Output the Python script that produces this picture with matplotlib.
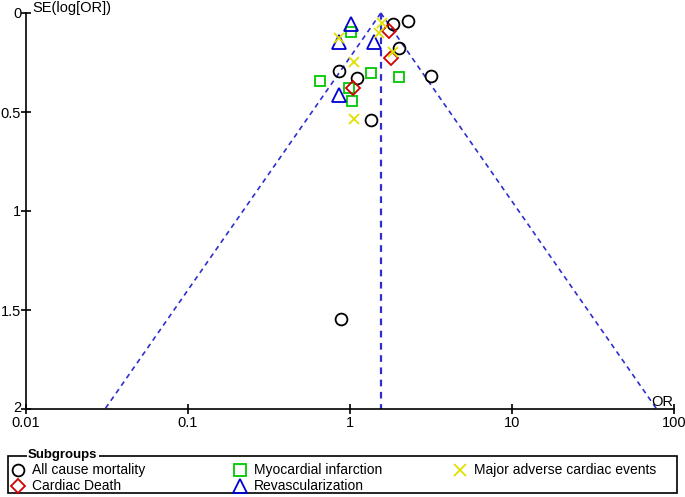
import numpy as np
import matplotlib
matplotlib.use("Agg")
import matplotlib.pyplot as plt
from matplotlib.patches import Rectangle
from matplotlib.lines import Line2D
import matplotlib.transforms as mtransforms

plt.rcParams['font.family'] = ['Liberation Sans', 'DejaVu Sans']

# Data: (odds ratio, SE of log OR)
acm_or = [1.85, 2.29, 2.00, 0.85, 1.10, 3.15, 1.34, 0.88]
acm_se = [0.057, 0.039, 0.175, 0.291, 0.328, 0.318, 0.540, 1.545]
mi_or = [1.01, 1.35, 2.01, 0.65, 0.98, 1.03]
mi_se = [0.098, 0.303, 0.323, 0.343, 0.380, 0.444]
mace_or = [1.57, 1.50, 0.855, 1.85, 1.06, 1.06]
mace_se = [0.049, 0.099, 0.125, 0.198, 0.249, 0.535]
cd_or = [1.75, 1.79, 1.05]
cd_se = [0.089, 0.229, 0.380]
rev_or = [1.01, 0.86, 1.41, 0.86]
rev_se = [0.055, 0.148, 0.148, 0.414]

pooled_or = 1.55
se_max = 2.0

x_ticks = [0.01, 0.1, 1, 10, 100]
x_ticklabels = ["0.01", "0.1", "1", "10", "100"]
y_ticks = [0, 0.5, 1, 1.5, 2]
y_ticklabels = ["0", "0.5", "1", "1.5", "2"]

labels = ["All cause mortality", "Myocardial infarction", "Major adverse cardiac events",
          "Cardiac Death", "Revascularization"]

W, H = 685, 497
fig = plt.figure(figsize=(6.85, 4.97), dpi=100)
ax = fig.add_axes([26/W, 1-409/H, (674-26)/W, (409-13)/H])

fcol = '#2E2ED0'
se_line = np.array([0.0, se_max])
lo = pooled_or * np.exp(-1.96 * se_line)
hi = pooled_or * np.exp(1.96 * se_line)
ax.plot(lo, se_line, color=fcol, ls=(0, (3, 2.5)), lw=1.2, clip_on=False)
ax.plot(hi, se_line, color=fcol, ls=(0, (3, 2.5)), lw=1.2, clip_on=False)
ax.plot([pooled_or, pooled_or], se_line, color=fcol, ls=(0, (3, 2.5)), lw=1.6, clip_on=False)

green = '#00C800'
yellow = '#E0E000'
red = '#D00000'
blue = '#0000D0'
styles = [
    dict(marker='o', ms=8.5, mec='black'),
    dict(marker='s', ms=7.2, mec=green),
    dict(marker='x', ms=7.2, mec=yellow),
    dict(marker='D', ms=7.4, mec=red),
    dict(marker='^', ms=9.5, mec=blue),
]
series = [(acm_or, acm_se), (mi_or, mi_se), (mace_or, mace_se), (cd_or, cd_se), (rev_or, rev_se)]
order = [0, 1, 3, 4, 2]
for i in order:
    xs, ys = series[i]
    ax.plot(xs, ys, ls='none', mfc='none', mew=1.3, clip_on=False, **styles[i])

ax.set_xscale('log')
ax.set_xlim(0.01, 100)
ax.set_ylim(2, 0)
ax.set_xticks(x_ticks)
ax.set_xticklabels(x_ticklabels)
ax.set_yticks(y_ticks)
ax.set_yticklabels(y_ticklabels)
ax.minorticks_off()
for s in ['top', 'right']:
    ax.spines[s].set_visible(False)
ax.spines['left'].set_linewidth(1.2)
ax.spines['bottom'].set_linewidth(1.2)
ax.tick_params(direction='inout', length=7, width=1.2, labelsize=10.5, pad=0)
ax.tick_params(axis='x', pad=1.5)
# nudge the "2" label up slightly so it does not collide with "0.01"
lab2 = ax.get_yticklabels()[-1]
lab2.set_transform(lab2.get_transform() + mtransforms.ScaledTranslation(0, 3/100, fig.dpi_scale_trans))

fig.text(32/W, 1-8/H, "SE(log[OR])", fontsize=10.5, ha='left', va='center')
ax.text(0.999, 0.0, "OR", transform=ax.transAxes, fontsize=10.5, ha='right', va='bottom')

# Legend box
box = Rectangle((8/W, 1-493/H), (677-8)/W, (493-456)/H, transform=fig.transFigure,
                fill=False, ec='black', lw=1.2)
fig.patches.append(box)
fig.text(28/W, 1-455/H, "Subgroups", fontsize=9.5, fontweight='bold', ha='left', va='center',
         bbox=dict(fc='white', ec='none', pad=1.0))

mx = [18, 240, 460, 18, 240]
my = [470, 470, 470, 486, 486]
for j, lab in enumerate(labels):
    st = dict(styles[j])
    if st['marker'] == 's':
        st['ms'] = 9
    if st['marker'] == 'x':
        st['ms'] = 8.5
    fig.add_artist(Line2D([mx[j]/W], [1-my[j]/H], transform=fig.transFigure, ls='none',
                          mfc='none', mew=1.3, **st))
    fig.text((mx[j]+14)/W, 1-my[j]/H, lab, fontsize=10, ha='left', va='center')

fig.savefig("out.png", dpi=100)
